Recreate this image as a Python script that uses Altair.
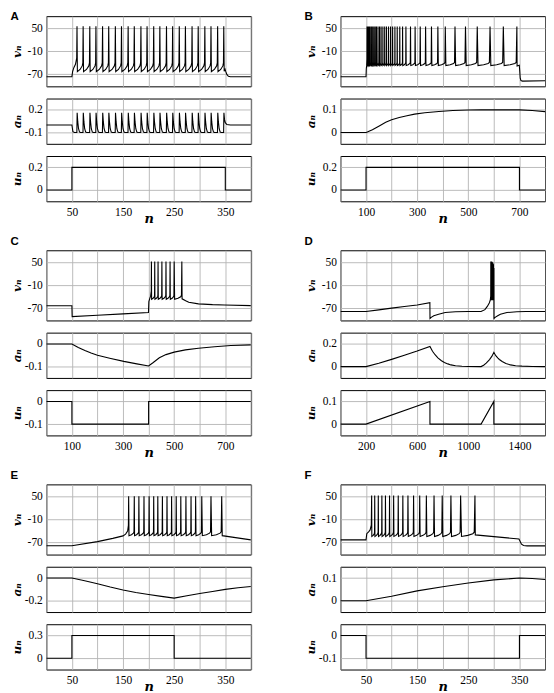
import altair as alt
import pandas as pd

# ---------------- values ----------------
V_DOMAIN = [-101, 81]
V_TICKS = [-70, -10, 50]

# shape of one inter-spike interval (fraction of interval, fraction trough->pre-spike level)
SHAPE_T = [0.06, 0.5, 0.85, 0.95]
SHAPE_L = [0.0, 0.25, 0.65, 1.0]

# ---- Panel A ----
A_X_DOMAIN = [0, 400]
A_X_GRID = [0, 50, 100, 150, 200, 250, 300, 350, 400]
A_X_LABELS = [50, 150, 250, 350]
A_V_BEFORE = [(0, -76), (50, -76), (51.5, -62), (54, -52), (57, -44), (59.4, -28)]
A_SPIKES = [60, 72, 85, 97, 110, 122, 135, 147, 160, 172, 185, 197, 210, 222, 235, 247,
            260, 272, 285, 297, 310, 322, 335, 347]
A_V_LEVELS = (55, -63, -40)
A_V_AFTER = [(347.8, -62), (349.5, -57), (351, -63), (353, -70), (356, -75), (360, -76), (400, -76)]
A_A_BEFORE = [(0, 0), (50, 0), (52, -0.09), (55, -0.1)]
A_A_SPIKE_DT = [-0.3, 0.3, 1.5, 3, 5, 7]
A_A_SPIKE_V = [-0.1, 0.16, 0.04, -0.05, -0.095, -0.1]
A_A_AFTER = [(346.7, -0.1), (347.3, 0.16), (348.5, 0.07), (350, 0.03), (353, 0.005), (360, 0), (400, 0)]
A_U = [(0, 0), (50, 0), (50, 0.2), (350, 0.2), (350, 0), (400, 0)]
A_A_DOMAIN, A_A_TICKS = [-0.25, 0.35], [-0.1, 0.2]
A_U_DOMAIN, A_U_TICKS = [-0.1, 0.3], [0, 0.2]

# ---- Panel B ----
B_X_DOMAIN = [0, 800]
B_X_GRID = [0, 100, 200, 300, 400, 500, 600, 700, 800]
B_X_LABELS = [100, 300, 500, 700]
B_V_BEFORE = [(0, -76), (100, -76), (101, -56), (102.5, -46), (103.6, -30)]
B_SPIKES = [104, 108, 112, 116, 121, 126, 131, 136, 141, 147, 153, 159, 166, 173, 180, 188,
            196, 204, 213, 222, 232, 243, 256, 274, 292, 312, 333, 356, 381, 410, 448, 489,
            535, 585, 637, 690]
B_V_LEVELS = (54, -47, -39)
B_V_AFTER = [(690.8, -48), (699.5, -46), (701, -60), (703, -80), (706, -86), (712, -87.5), (800, -86.5)]
B_A = [(0, 0), (100, 0), (105, 0.002), (125, 0.012), (150, 0.028), (177, 0.045), (200, 0.056),
       (230, 0.066), (260, 0.074), (290, 0.081), (330, 0.087), (385, 0.093), (440, 0.097),
       (500, 0.099), (550, 0.1), (700, 0.1), (750, 0.097), (800, 0.092)]
B_U = [(0, 0), (100, 0), (100, 0.2), (700, 0.2), (700, 0), (800, 0)]
B_A_DOMAIN, B_A_TICKS = [-0.05, 0.15], [0, 0.1]
B_U_DOMAIN, B_U_TICKS = [-0.1, 0.3], [0, 0.2]

# ---- Panel C ----
C_X_DOMAIN = [0, 800]
C_X_GRID = [0, 100, 200, 300, 400, 500, 600, 700, 800]
C_X_LABELS = [100, 300, 500, 700]
C_V_BEFORE = [(0, -63), (100, -63), (101, -91), (200, -87.5), (300, -84), (399.5, -80.5),
              (401, -52), (405, -43), (408, -38), (410.4, -25)]
C_SPIKES = [411, 424, 437, 452, 468, 484, 500, 530]
C_V_LEVELS = (52, -46, -36)
C_V_AFTER = [(531, -45), (545, -50), (557, -54), (595, -58), (650, -60), (697, -61), (800, -62.5)]
C_A = [(0, 0), (100, 0), (125, -0.016), (151, -0.029), (175, -0.04), (200, -0.05), (252, -0.064),
       (303, -0.077), (354, -0.088), (400, -0.097), (417, -0.083), (442, -0.061), (468, -0.047),
       (500, -0.036), (544, -0.026), (595, -0.019), (658, -0.012), (722, -0.007), (800, -0.004)]
C_U = [(0, 0), (100, 0), (100, -0.1), (400, -0.1), (400, 0), (800, 0)]
C_A_DOMAIN, C_A_TICKS = [-0.15, 0.05], [-0.1, 0]
C_U_DOMAIN, C_U_TICKS = [-0.15, 0.05], [-0.1, 0]

# ---- Panel D ----
D_X_DOMAIN = [0, 1600]
D_X_GRID = [0, 200, 400, 600, 800, 1000, 1200, 1400, 1600]
D_X_LABELS = [200, 600, 1000, 1400]
D_V_BEFORE = [(0, -78), (200, -78), (300, -73.5), (400, -69), (500, -65), (600, -61), (699.5, -55),
              (700.5, -96), (710, -93), (730, -89), (768, -85), (819, -80.5), (900, -78.5),
              (1000, -78), (1100, -78), (1130, -73), (1150, -64), (1165, -55), (1172, -48),
              (1175.5, -38)]
D_SPIKES = [1176, 1179, 1182, 1185, 1188, 1191, 1194, 1197, 1200]
D_PEAKS = [52, 52, 52, 51, 50, 49, 47, 45, 35]
D_V_LEVELS = (D_PEAKS, -48, -40)
D_V_AFTER = [(1200.8, -96), (1210, -93), (1230, -89), (1251, -85), (1302, -80.5), (1380, -78.5),
             (1450, -78), (1600, -78)]
D_A = [(0, 0), (200, 0), (300, 0.03), (400, 0.064), (500, 0.1), (600, 0.137), (700, 0.178),
       (720, 0.135), (740, 0.105), (762, 0.077), (790, 0.052), (813, 0.036), (840, 0.024),
       (864, 0.015), (900, 0.008), (950, 0.003), (1000, 0.001), (1100, 0), (1120, 0.012),
       (1140, 0.03), (1166, 0.062), (1185, 0.092), (1200, 0.126), (1215, 0.096), (1230, 0.077),
       (1243, 0.063), (1265, 0.045), (1294, 0.027), (1330, 0.015), (1370, 0.008), (1420, 0.004),
       (1500, 0.001), (1600, 0)]
D_U = [(0, 0), (200, 0), (700, 0.1), (700, 0), (1100, 0), (1200, 0.1), (1200, 0), (1600, 0)]
D_A_DOMAIN, D_A_TICKS = [-0.1, 0.3], [0, 0.2]
D_U_DOMAIN, D_U_TICKS = [-0.05, 0.15], [0, 0.1]

# ---- Panel E ----
E_X_DOMAIN = [0, 400]
E_X_GRID = [0, 50, 100, 150, 200, 250, 300, 350, 400]
E_X_LABELS = [50, 150, 250, 350]
E_V_BEFORE = [(0, -78), (50, -78), (100, -67.5), (130, -59), (150, -52.6), (155, -48), (159, -40),
              (160.5, -25)]
E_SPIKES = [161, 172, 181, 191, 201, 210, 218, 227, 236, 245, 254, 263, 273, 283, 292, 304, 322, 343]
E_V_LEVELS = (50, -52, -42)
E_V_AFTER = [(344, -52), (370, -57), (400, -63)]
E_A = [(0, 0), (50, 0), (75, -0.024), (100, -0.05), (125, -0.079), (150, -0.105), (175, -0.127),
       (200, -0.145), (225, -0.162), (250, -0.177), (275, -0.156), (300, -0.137), (325, -0.118),
       (350, -0.1), (375, -0.086), (400, -0.074)]
E_U = [(0, 0), (50, 0), (50, 0.3), (250, 0.3), (250, 0), (400, 0)]
E_A_DOMAIN, E_A_TICKS = [-0.3, 0.1], [-0.2, 0]
E_U_DOMAIN, E_U_TICKS = [-0.15, 0.45], [0, 0.3]

# ---- Panel F ----
F_X_DOMAIN = [0, 400]
F_X_GRID = [0, 50, 100, 150, 200, 250, 300, 350, 400]
F_X_LABELS = [50, 150, 250, 350]
F_V_BEFORE = [(0, -63), (50, -63), (51.5, -47), (55, -42), (58, -37), (60.3, -25)]
F_SPIKES = [61, 67, 74, 81, 88, 96, 104, 113, 122, 132, 143, 155, 168, 183, 199, 216, 235, 263]
F_V_LEVELS = (52, -54, -43)
F_V_AFTER = [(263.7, -50), (300, -54.5), (349, -60.5), (351, -66), (354, -74), (358, -77.5),
             (365, -78.5), (400, -78.5)]
F_A = [(0, 0), (50, 0), (100, 0.02), (150, 0.0435), (200, 0.062), (250, 0.078), (300, 0.092),
       (350, 0.1), (375, 0.098), (400, 0.094)]
F_U = [(0, 0), (50, 0), (50, -0.1), (350, -0.1), (350, 0), (400, 0)]
F_A_DOMAIN, F_A_TICKS = [-0.05, 0.15], [0, 0.1]
F_U_DOMAIN, F_U_TICKS = [-0.15, 0.05], [-0.1, 0]

# ---------------- building the series ----------------
def spike_train(spikes, levels):
    peaks, trough, pre = levels
    pts = []
    for i, t in enumerate(spikes):
        pk = peaks[i] if isinstance(peaks, list) else peaks
        pts.append((t, pk))
        if i + 1 < len(spikes):
            isi = spikes[i + 1] - t
            for ft, fl in zip(SHAPE_T, SHAPE_L):
                pts.append((t + ft * isi, trough + fl * (pre - trough)))
    return pts


def a_spikes(spikes, dts, vals):
    pts = []
    for t in spikes:
        for d, v in zip(dts, vals):
            pts.append((t + d, v))
    return pts


def frame(pts):
    return pd.DataFrame({"n": [p[0] for p in pts], "y": [p[1] for p in pts],
                         "i": list(range(len(pts)))})


# ---------------- layout / style ----------------
W = 205.5
H_V = 70.5
H_S = 45.5
INNER_SP = 10.75
FONT_NUM = "Liberation Serif"
FONT_MATH = "DejaVu Serif"


def x_axis(grid, labels=None):
    if labels is None:
        return alt.Axis(values=grid, labels=False, ticks=False, domain=False, title=None, grid=True)
    lab = "[" + ",".join(str(v) for v in labels) + "]"
    return alt.Axis(values=grid, ticks=False, domain=False, grid=True,
                    labelExpr=f"indexof({lab}, datum.value) >= 0 ? '' + datum.value : ''",
                    labelPadding=5, labelFont=FONT_NUM, labelFontSize=11.5, labelColor="black",
                    labelAngle=0, labelFlush=False,
                    title="n", titleFont=FONT_MATH, titleFontStyle="italic", titleFontWeight="bold",
                    titleFontSize=13, titleColor="black", titleY=21.5, titleBaseline="alphabetic")


def y_axis(ticks, title, h):
    return alt.Axis(values=ticks, ticks=False, domain=False, grid=True,
                    labelExpr="'' + datum.value", labelPadding=4, labelFont=FONT_NUM,
                    labelFontSize=11.5, labelColor="black",
                    title=title, titleFont=FONT_MATH, titleFontStyle="italic",
                    titleFontWeight="bold", titleFontSize=12, titleColor="black",
                    titleAngle=270, titleX=-26, titleY=h / 2, titleAlign="center",
                    titleBaseline="alphabetic")


def trace(pts, xdom, xaxis, ydom, yaxis, h):
    return alt.Chart(frame(pts)).mark_line(color="black", strokeWidth=1.1, clip=True).encode(
        x=alt.X("n:Q", scale=alt.Scale(domain=xdom, nice=False, zero=False), axis=xaxis),
        y=alt.Y("y:Q", scale=alt.Scale(domain=ydom, nice=False, zero=False), axis=yaxis),
        order=alt.Order("i:Q"),
    ).properties(width=W, height=h)


def panel(letter, letter_y, xdom, xgrid, xlabels, v_pts, a_pts, u_pts, a_dom, a_ticks, u_dom, u_ticks):
    v = trace(v_pts, xdom, x_axis(xgrid), V_DOMAIN, y_axis(V_TICKS, "vₙ", H_V), H_V)
    lab = alt.Chart(pd.DataFrame({"t": [letter]})).mark_text(
        align="left", baseline="alphabetic", font="Liberation Sans", fontWeight="bold",
        fontSize=11.5, color="black").encode(x=alt.value(-36), y=alt.value(letter_y), text="t:N")
    a = trace(a_pts, xdom, x_axis(xgrid), a_dom, y_axis(a_ticks, "aₙ", H_S), H_S)
    u = trace(u_pts, xdom, x_axis(xgrid, xlabels), u_dom, y_axis(u_ticks, "uₙ", H_S), H_S)
    return alt.vconcat(alt.layer(v, lab), a, u, spacing=INNER_SP)


pA = panel("A", 3.5, A_X_DOMAIN, A_X_GRID, A_X_LABELS,
           A_V_BEFORE + spike_train(A_SPIKES, A_V_LEVELS) + A_V_AFTER,
           A_A_BEFORE + a_spikes(A_SPIKES[:-1], A_A_SPIKE_DT, A_A_SPIKE_V) + A_A_AFTER,
           A_U, A_A_DOMAIN, A_A_TICKS, A_U_DOMAIN, A_U_TICKS)
pB = panel("B", 3.5, B_X_DOMAIN, B_X_GRID, B_X_LABELS,
           B_V_BEFORE + spike_train(B_SPIKES, B_V_LEVELS) + B_V_AFTER,
           B_A, B_U, B_A_DOMAIN, B_A_TICKS, B_U_DOMAIN, B_U_TICKS)
pC = panel("C", -5.5, C_X_DOMAIN, C_X_GRID, C_X_LABELS,
           C_V_BEFORE + spike_train(C_SPIKES, C_V_LEVELS) + C_V_AFTER,
           C_A, C_U, C_A_DOMAIN, C_A_TICKS, C_U_DOMAIN, C_U_TICKS)
pD = panel("D", -5.5, D_X_DOMAIN, D_X_GRID, D_X_LABELS,
           D_V_BEFORE + spike_train(D_SPIKES, D_V_LEVELS) + D_V_AFTER,
           D_A, D_U, D_A_DOMAIN, D_A_TICKS, D_U_DOMAIN, D_U_TICKS)
pE = panel("E", -5.5, E_X_DOMAIN, E_X_GRID, E_X_LABELS,
           E_V_BEFORE + spike_train(E_SPIKES, E_V_LEVELS) + E_V_AFTER,
           E_A, E_U, E_A_DOMAIN, E_A_TICKS, E_U_DOMAIN, E_U_TICKS)
pF = panel("F", -5.5, F_X_DOMAIN, F_X_GRID, F_X_LABELS,
           F_V_BEFORE + spike_train(F_SPIKES, F_V_LEVELS) + F_V_AFTER,
           F_A, F_U, F_A_DOMAIN, F_A_TICKS, F_U_DOMAIN, F_U_TICKS)

H_SP = 52.5
V_SP = 9.2

chart = alt.vconcat(
    alt.hconcat(pA, pB, spacing=H_SP),
    alt.hconcat(pC, pD, spacing=H_SP),
    alt.hconcat(pE, pF, spacing=H_SP),
    spacing=V_SP,
).configure_view(stroke="black", strokeWidth=1).configure_axis(
    gridColor="#b4b4b4", gridWidth=0.9, gridOpacity=1
).properties(padding={"left": 1.5, "top": 0.6, "right": 0, "bottom": 0}, background="white")

chart.save("out.html", embed_options={"renderer": "svg", "actions": False})
